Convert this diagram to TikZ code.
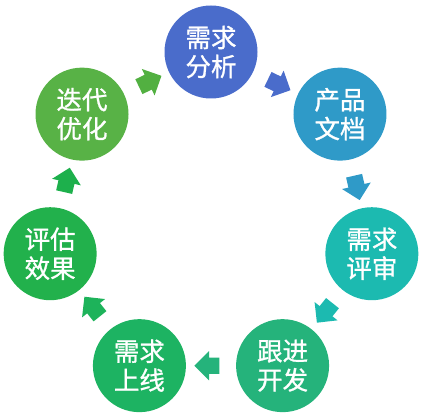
\documentclass[tikz,border=0pt]{standalone}
\usepackage{fontspec}
\newfontfamily\cjk[FakeBold=1]{Noto Sans CJK SC}
\usetikzlibrary{shapes.arrows,calc}
\definecolor{cA}{HTML}{4A6CCB}
\definecolor{cB}{HTML}{2F9AC8}
\definecolor{cC}{HTML}{1CBAB0}
\definecolor{cD}{HTML}{25B37B}
\definecolor{cE}{HTML}{1DB362}
\definecolor{cF}{HTML}{22B14C}
\definecolor{cG}{HTML}{58B246}
\definecolor{aE}{HTML}{1DB35A}
\definecolor{aF}{HTML}{1DB04C}
\definecolor{aG}{HTML}{52B041}
\tikzset{
  stage/.style={circle, minimum size=93pt, inner sep=0pt, text=white, align=center,
    font=\cjk\fontsize{25.5}{29}\selectfont},
  flow/.style={single arrow, draw=none, minimum height=25pt, inner xsep=1pt, inner ysep=8pt,
    single arrow head extend=6.5pt}
}
\begin{document}
\begin{tikzpicture}[x=1pt,y=1pt]
\useasboundingbox (0,0) rectangle (423,-417);
\coordinate (O) at (211,-217);
\foreach \k/\col/\txt in {0/cA/{需求\\分析},1/cB/{产品\\文档},2/cC/{需求\\评审},3/cD/{跟进\\开发},4/cE/{需求\\上线},5/cF/{评估\\效果},6/cG/{迭代\\优化}}{
  \node[stage, fill=\col] (s\k) at ($(O)+({90-51.4286*\k}:165)$) {\txt};
}
\foreach \k/\col in {0/cA,1/cB,2/cC,3/cD,4/aE,5/aF,6/aG}{
  \pgfmathsetmacro{\mid}{90-51.4286*\k-25.7143}
  \node[flow, fill=\col, rotate=\mid-90] (f\k) at ($(O)+(\mid:148.7)$) {};
}
\end{tikzpicture}
\end{document}
